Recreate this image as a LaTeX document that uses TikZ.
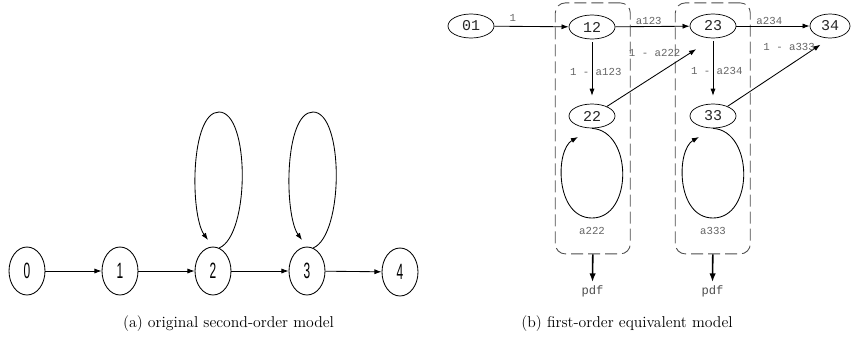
\documentclass[tikz,border=0pt]{standalone}
\usepackage{fontspec}
\usepackage{graphicx}
\newfontfamily\narrowfont{Liberation Sans}
\newfontfamily\monofont{Liberation Mono}
\usetikzlibrary{arrows.meta,shapes.geometric,calc}

\newcommand{\sdigit}[1]{\scalebox{0.54}[1]{\narrowfont\fontsize{15.5}{15.5}\selectfont #1}}

\tikzset{
  onode/.style={draw, ellipse, line width=0.6pt, inner sep=0pt,
    minimum width=25.2pt, minimum height=33.6pt},
  pnode/.style={draw, ellipse, line width=0.5pt, inner sep=0pt,
    minimum width=32.2pt, minimum height=16.8pt,
    font=\monofont\fontsize{10.5}{10.5}\selectfont, text=black!85},
  chain/.style={line width=0.6pt, -{Latex[length=5pt,width=3.6pt]}},
  elabel/.style={inner sep=1pt, text=black!60,
    font=\monofont\fontsize{7.5}{7.5}\selectfont},
  groupbox/.style={draw=black!70, line width=0.6pt, rounded corners=7pt,
    dash pattern=on 8.4pt off 3.5pt, minimum width=52.5pt, minimum height=175.7pt},
  outarrow/.style={line width=1.1pt, -{Latex[length=6pt,width=4.5pt]}},
  outlabel/.style={inner sep=2.5pt, text=black!70,
    font=\monofont\fontsize{8.5}{8.5}\selectfont}
}

\begin{document}
\begin{tikzpicture}[x=0.7pt,y=-0.7pt]
  \useasboundingbox (0,0) rectangle (851,344);

  % (a) second-order chain
  \node[onode] (s0) at (27,271) {\sdigit{0}};
  \node[onode] (s1) at (120,271) {\sdigit{1}};
  \node[onode] (s2) at (213,271) {\sdigit{2}};
  \node[onode] (s3) at (307,271) {\sdigit{3}};
  \node[onode] (s4) at (400,272) {\sdigit{4}};
  \draw[chain] (s0) -- (s1);
  \draw[chain] (s1) -- (s2);
  \draw[chain] (s2) -- (s3);
  \draw[chain] (s3) -- (s4);
  \foreach \s in {s2,s3}
    \draw[chain] (\s.75) .. controls ($(\s)+(37,-36)$) and ($(\s)+(37,-159)$) .. ($(\s)+(6,-159)$)
      .. controls ($(\s)+(-23,-159)$) and ($(\s)+(-23,-56)$) .. ($(\s)+(-5,-31)$);

  % (b) first-order equivalent
  \node[groupbox] (g1) at (592.8,128.4) {};
  \node[groupbox] (g2) at (712.8,128.4) {};
  \node[pnode] (p01) at (471,26) {01};
  \node[pnode] (p12) at (592,27) {12};
  \node[pnode] (p23) at (713,26) {23};
  \node[pnode, minimum width=28pt] (p34) at (830,26) {34};
  \node[pnode] (p22) at (592,116) {22};
  \node[pnode] (p33) at (713,116) {33};

  \draw[chain] (p01) -- node[elabel, pos=0.25, above=2pt] {1} (p12);
  \draw[chain] (p12) -- node[elabel, pos=0.45, above] {a123} (p23);
  \draw[chain] (p23) -- node[elabel, pos=0.45, above] {a234} (p34);
  \draw[chain, shorten <=2pt, shorten >=5.5pt] (p12) -- node[elabel, xshift=2.6pt] {1 - a123} (p22);
  \draw[chain, shorten <=2pt, shorten >=5.5pt] (p23) -- node[elabel, xshift=2.6pt] {1 - a234} (p33);
  \draw[chain, shorten >=14pt] (p22) -- node[elabel, pos=0.71, anchor=south east] {1 - a222} (p23.south);
  \draw[chain, shorten >=8pt] (p33) -- node[elabel, pos=0.87, anchor=east] {1 - a333} (p34.south);

  \draw[chain] (p22.south) .. controls ($(p22)+(41,15)$) and ($(p22)+(41,102)$) .. ($(p22)+(0,102)$)
    node[elabel, below=5pt] {a222}
    .. controls ($(p22)+(-37,102)$) and ($(p22)+(-37,34)$) .. ($(p22)+(-14,21)$);
  \draw[chain] (p33.south) .. controls ($(p33)+(41,15)$) and ($(p33)+(41,102)$) .. ($(p33)+(0,102)$)
    node[elabel, below=5pt] {a333}
    .. controls ($(p33)+(-37,102)$) and ($(p33)+(-37,34)$) .. ($(p33)+(-14,21)$);

  \node[outlabel, anchor=north] (pdf1) at (592.5,282) {pdf};
  \node[outlabel, anchor=north] (pdf2) at (712.5,282) {pdf};
  \draw[outarrow] (g1.south) -- (pdf1.north);
  \draw[outarrow] (g2.south) -- (pdf2.north);

  % captions
  \node[font=\fontsize{11}{13}\selectfont] (capa) at (228.5,324) {(a) original second-order model};
  \node[font=\fontsize{11}{13}\selectfont] (capb) at (627,324) {(b) first-order equivalent model};
\end{tikzpicture}
\end{document}
